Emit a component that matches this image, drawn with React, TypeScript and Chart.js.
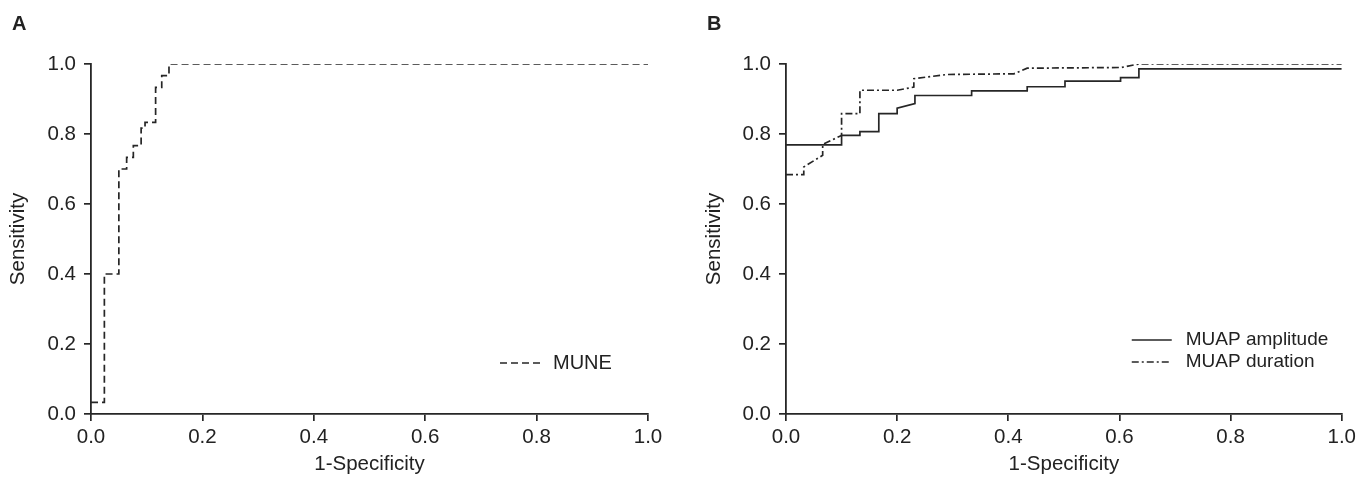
import React, { useEffect, useRef } from "react";
import { Chart, registerables } from "chart.js";

Chart.register(...registerables);

// ---------- data ----------
const tickValues = [0, 0.2, 0.4, 0.6, 0.8, 1.0];
const xTitle = "1-Specificity";
const yTitle = "Sensitivity";

const muneLabel = "MUNE";
const muneFpr = [0, 0.024, 0.024, 0.05, 0.05, 0.064, 0.064, 0.076, 0.076, 0.09, 0.09, 0.097, 0.097, 0.116, 0.116, 0.127, 0.127, 0.14, 0.14, 1.0];
const muneTpr = [0.033, 0.033, 0.4, 0.4, 0.7, 0.7, 0.733, 0.733, 0.767, 0.767, 0.817, 0.817, 0.833, 0.833, 0.933, 0.933, 0.967, 0.967, 1.0, 1.0];

const ampLabel = "MUAP amplitude";
const ampFpr = [0, 0.1, 0.1, 0.133, 0.133, 0.167, 0.167, 0.2, 0.2, 0.232, 0.232, 0.334, 0.334, 0.434, 0.434, 0.502, 0.502, 0.602, 0.602, 0.635, 0.635, 1.0];
const ampTpr = [0.769, 0.769, 0.796, 0.796, 0.807, 0.807, 0.858, 0.858, 0.874, 0.887, 0.91, 0.91, 0.923, 0.923, 0.935, 0.935, 0.951, 0.951, 0.961, 0.961, 0.986, 0.986];

const durLabel = "MUAP duration";
const durFpr = [0, 0.032, 0.032, 0.066, 0.066, 0.1, 0.1, 0.133, 0.133, 0.2, 0.23, 0.23, 0.29, 0.41, 0.434, 0.603, 0.635, 1.0];
const durTpr = [0.684, 0.684, 0.706, 0.739, 0.77, 0.796, 0.858, 0.858, 0.925, 0.925, 0.934, 0.958, 0.97, 0.972, 0.988, 0.99, 1.0, 1.0];

// ---------- style ----------
const FONT = "'Liberation Sans', Arial, Helvetica, sans-serif";
const INK = "#222222";
const LINE = "#262626";
const FS = 20.5;
const W = 680;
const H = 477;

const toPoints = (xs: number[], ys: number[]) => xs.map((x, i) => ({ x, y: ys[i] }));

const cornerLegend = {
  id: "cornerLegend",
  afterDraw(chart: any, _args: any, opts: any) {
    const { ctx, chartArea } = chart;
    ctx.save();
    chart.data.datasets.forEach((ds: any, i: number) => {
      const y = chartArea.bottom - opts.bottomOffset + i * opts.rowGap;
      ctx.beginPath();
      ctx.strokeStyle = ds.borderColor;
      ctx.lineWidth = ds.borderWidth;
      ctx.setLineDash(ds.borderDash || []);
      ctx.moveTo(chartArea.right - opts.sampleStart, y);
      ctx.lineTo(chartArea.right - opts.sampleEnd, y);
      ctx.stroke();
      ctx.setLineDash([]);
      ctx.fillStyle = INK;
      ctx.font = `${opts.fontSize}px ${FONT}`;
      ctx.textBaseline = "middle";
      ctx.textAlign = "left";
      ctx.fillText(ds.label, chartArea.right - opts.textStart, y);
    });
    ctx.restore();
  },
};

function makeScales(yWidth: number, yTitlePad: number) {
  const grid = {
    display: true,
    drawOnChartArea: false,
    drawTicks: true,
    tickLength: 7,
    color: LINE,
    lineWidth: 1.7,
  };
  const border = { display: true, color: LINE, width: 1.8 };
  const font = { family: FONT, size: FS };
  const setTicks = (s: any) => {
    s.ticks = tickValues.map((v) => ({ value: v }));
  };
  return {
    x: {
      type: "linear",
      min: 0,
      max: 1,
      grid,
      border,
      afterBuildTicks: setTicks,
      afterFit: (s: any) => {
        s.height = H - 64 - 350;
      },
      ticks: {
        color: INK,
        font,
        padding: 4,
        maxRotation: 0,
        callback: (v: any) => Number(v).toFixed(1),
      },
      title: {
        display: true,
        text: xTitle,
        color: INK,
        font,
        padding: { top: 0, bottom: 0 },
      },
    },
    y: {
      type: "linear",
      min: 0,
      max: 1,
      grid,
      border,
      afterBuildTicks: setTicks,
      afterFit: (s: any) => {
        s.width = yWidth;
      },
      ticks: {
        color: INK,
        font,
        padding: 8,
        callback: (v: any) => Number(v).toFixed(1),
      },
      title: {
        display: true,
        text: yTitle,
        color: INK,
        font,
        padding: { top: yTitlePad, bottom: 0 },
      },
    },
  };
}

function Panel(props: {
  datasets: any[];
  yWidth: number;
  rightPad: number;
  yTitlePad: number;
  legend: any;
}) {
  const ref = useRef<HTMLCanvasElement | null>(null);
  useEffect(() => {
    if (!ref.current) return;
    const chart = new Chart(ref.current, {
      type: "scatter",
      data: { datasets: props.datasets },
      options: {
        responsive: false,
        animation: false,
        devicePixelRatio: 1,
        layout: { padding: { top: 64, right: props.rightPad, left: 0, bottom: 0 } },
        elements: { point: { radius: 0, hoverRadius: 0 } },
        plugins: {
          legend: { display: false },
          tooltip: { enabled: false },
          cornerLegend: props.legend,
        } as any,
        scales: makeScales(props.yWidth, props.yTitlePad) as any,
      },
      plugins: [cornerLegend],
    });
    return () => chart.destroy();
  }, []);
  return <canvas ref={ref} width={W} height={H} style={{ width: W, height: H, display: "block" }} />;
}

const lineDs = (label: string, xs: number[], ys: number[], dash: number[]) => ({
  label,
  data: toPoints(xs, ys),
  showLine: true,
  borderColor: LINE,
  backgroundColor: LINE,
  borderWidth: 1.7,
  borderDash: dash,
  pointRadius: 0,
  fill: false,
  tension: 0,
});

export default function App() {
  const panelLabel: React.CSSProperties = {
    position: "absolute",
    top: 12,
    fontFamily: FONT,
    fontWeight: "bold",
    fontSize: 20,
    color: INK,
  };
  return (
    <div style={{ position: "fixed", left: 0, top: 0, width: 1360, height: H, background: "#fff", overflow: "hidden" }}>
      <div style={{ position: "absolute", left: 0, top: 0 }}>
        <Panel
          datasets={[lineDs(muneLabel, muneFpr, muneTpr, [7, 4])]}
          yWidth={91}
          rightPad={32}
          yTitlePad={6}
          legend={{ bottomOffset: 51, rowGap: 0, sampleStart: 148, sampleEnd: 107, textStart: 95, fontSize: 20 }}
        />
      </div>
      <div style={{ position: "absolute", left: W, top: 0 }}>
        <Panel
          datasets={[
            lineDs(ampLabel, ampFpr, ampTpr, []),
            lineDs(durLabel, durFpr, durTpr, [7, 3, 2, 3]),
          ]}
          yWidth={106}
          rightPad={17}
          yTitlePad={22}
          legend={{ bottomOffset: 74, rowGap: 22, sampleStart: 210, sampleEnd: 170, textStart: 156, fontSize: 19 }}
        />
      </div>
      <div style={{ ...panelLabel, left: 12 }}>A</div>
      <div style={{ ...panelLabel, left: 707 }}>B</div>
    </div>
  );
}
